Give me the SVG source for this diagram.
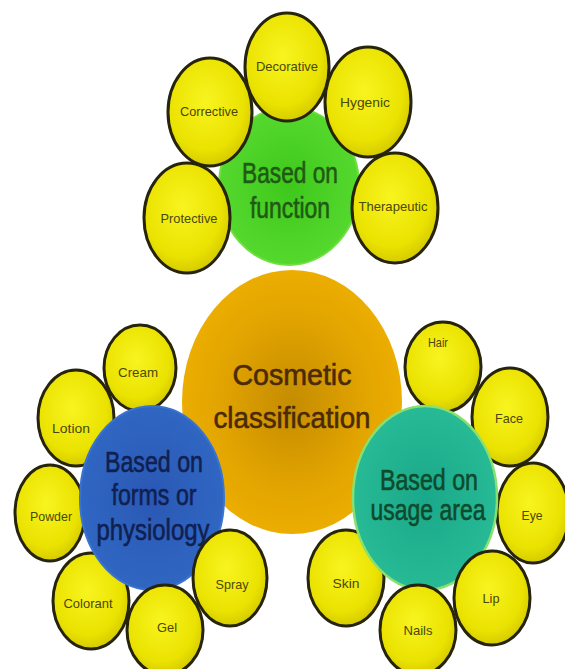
<svg xmlns="http://www.w3.org/2000/svg" width="565" height="669" viewBox="0 0 565 669">
<defs>
<radialGradient id="gY" cx="45%" cy="40%" r="65%"><stop offset="0" stop-color="#f8f420"/><stop offset="0.7" stop-color="#eae200"/><stop offset="1" stop-color="#cfc400"/></radialGradient>
<radialGradient id="gO" cx="50%" cy="50%" r="55%"><stop offset="0" stop-color="#c48c00"/><stop offset="0.6" stop-color="#e2a400"/><stop offset="1" stop-color="#eeb000"/></radialGradient>
<radialGradient id="gG" cx="50%" cy="50%" r="55%"><stop offset="0" stop-color="#3ec81c"/><stop offset="1" stop-color="#58da30"/></radialGradient>
<radialGradient id="gB" cx="50%" cy="50%" r="55%"><stop offset="0" stop-color="#2a58b4"/><stop offset="1" stop-color="#3068c4"/></radialGradient>
<radialGradient id="gT" cx="50%" cy="50%" r="55%"><stop offset="0" stop-color="#1aa88a"/><stop offset="1" stop-color="#28bc96"/></radialGradient>
</defs>
<style>
.leaf ellipse{fill:url(#gY);stroke:#26240c;stroke-width:3}
.leaf text{font-family:"Liberation Sans",Arial,sans-serif;font-size:13px;fill:#4a4808;text-anchor:middle}
.big{font-family:"Liberation Sans",Arial,sans-serif;font-size:30px;text-anchor:middle;stroke-width:0.6}
</style>
<g id="center">
<ellipse cx="292" cy="402" rx="110" ry="132" fill="url(#gO)"/>
<text class="big" x="292" y="385" fill="#4a2a08" stroke="#4a2a08" font-size="35" textLength="119" lengthAdjust="spacingAndGlyphs">Cosmetic</text>
<text class="big" x="292" y="428" fill="#4a2a08" stroke="#4a2a08" font-size="35" textLength="157" lengthAdjust="spacingAndGlyphs">classification</text>
</g>
<g id="function">
<ellipse cx="289" cy="186" rx="70" ry="79" fill="url(#gG)" stroke="#70e040" stroke-width="2"/>
<text class="big" x="290" y="183" fill="#1f5a14" stroke="#1f5a14" textLength="96" lengthAdjust="spacingAndGlyphs">Based on</text>
<text class="big" x="290" y="218" fill="#1f5a14" stroke="#1f5a14" textLength="80" lengthAdjust="spacingAndGlyphs">function</text>
</g>
<g id="decorative" class="leaf"><ellipse cx="287" cy="67" rx="42" ry="54"/><text x="287" y="71" textLength="62" lengthAdjust="spacingAndGlyphs">Decorative</text></g>
<g id="corrective" class="leaf"><ellipse cx="210" cy="112" rx="42" ry="54"/><text x="209" y="116" textLength="58" lengthAdjust="spacingAndGlyphs">Corrective</text></g>
<g id="hygenic" class="leaf"><ellipse cx="368" cy="102" rx="43" ry="55"/><text x="365" y="107" textLength="50" lengthAdjust="spacingAndGlyphs">Hygenic</text></g>
<g id="protective" class="leaf"><ellipse cx="187" cy="218" rx="43" ry="55"/><text x="189" y="223" textLength="57" lengthAdjust="spacingAndGlyphs">Protective</text></g>
<g id="therapeutic" class="leaf"><ellipse cx="395" cy="208" rx="43" ry="55"/><text x="393" y="211" textLength="69" lengthAdjust="spacingAndGlyphs">Therapeutic</text></g>

<g id="cream" class="leaf"><ellipse cx="140" cy="368" rx="36" ry="43"/><text x="138" y="377" textLength="40" lengthAdjust="spacingAndGlyphs">Cream</text></g>
<g id="lotion" class="leaf"><ellipse cx="76" cy="418" rx="38" ry="48"/><text x="71" y="433" textLength="38" lengthAdjust="spacingAndGlyphs">Lotion</text></g>
<g id="powder" class="leaf"><ellipse cx="50" cy="513" rx="35" ry="48"/><text x="51" y="521" textLength="42" lengthAdjust="spacingAndGlyphs">Powder</text></g>
<g id="colorant" class="leaf"><ellipse cx="91" cy="601" rx="38" ry="48"/><text x="88" y="608" textLength="49" lengthAdjust="spacingAndGlyphs">Colorant</text></g>
<g id="forms">
<ellipse cx="152" cy="498" rx="72" ry="92" fill="url(#gB)" stroke="#3a74d0" stroke-width="2"/>
<text class="big" x="154" y="472" fill="#102050" stroke="#102050" textLength="98" lengthAdjust="spacingAndGlyphs">Based on</text>
<text class="big" x="154" y="505" fill="#102050" stroke="#102050" textLength="85" lengthAdjust="spacingAndGlyphs">forms or</text>
<text class="big" x="153" y="540" fill="#102050" stroke="#102050" textLength="113" lengthAdjust="spacingAndGlyphs">physiology</text>
</g>
<g id="gel" class="leaf"><ellipse cx="165" cy="630" rx="38" ry="45"/><text x="167" y="632" textLength="20" lengthAdjust="spacingAndGlyphs">Gel</text></g>
<g id="spray" class="leaf"><ellipse cx="230" cy="578" rx="37" ry="48"/><text x="232" y="589" textLength="33" lengthAdjust="spacingAndGlyphs">Spray</text></g>

<g id="hair" class="leaf"><ellipse cx="443" cy="367" rx="38" ry="45"/><text x="438" y="347" textLength="20" lengthAdjust="spacingAndGlyphs">Hair</text></g>
<g id="face" class="leaf"><ellipse cx="510" cy="417" rx="38" ry="49"/><text x="509" y="423" textLength="28" lengthAdjust="spacingAndGlyphs">Face</text></g>
<g id="eye" class="leaf"><ellipse cx="533" cy="513" rx="36" ry="50"/><text x="532" y="520" textLength="21" lengthAdjust="spacingAndGlyphs">Eye</text></g>
<g id="skin" class="leaf"><ellipse cx="346" cy="578" rx="38" ry="48"/><text x="346" y="588" textLength="27" lengthAdjust="spacingAndGlyphs">Skin</text></g>
<g id="usage">
<ellipse cx="425" cy="498" rx="72" ry="92" fill="url(#gT)" stroke="#88e070" stroke-width="2.5"/>
<text class="big" x="429" y="490" fill="#0f4a2c" stroke="#0f4a2c" textLength="98" lengthAdjust="spacingAndGlyphs">Based on</text>
<text class="big" x="428" y="520" fill="#0f4a2c" stroke="#0f4a2c" textLength="115" lengthAdjust="spacingAndGlyphs">usage area</text>
</g>
<g id="lip" class="leaf"><ellipse cx="492" cy="598" rx="38" ry="47"/><text x="491" y="603" textLength="17" lengthAdjust="spacingAndGlyphs">Lip</text></g>
<g id="nails" class="leaf"><ellipse cx="418" cy="630" rx="38" ry="45"/><text x="418" y="635" textLength="29" lengthAdjust="spacingAndGlyphs">Nails</text></g>
</svg>
